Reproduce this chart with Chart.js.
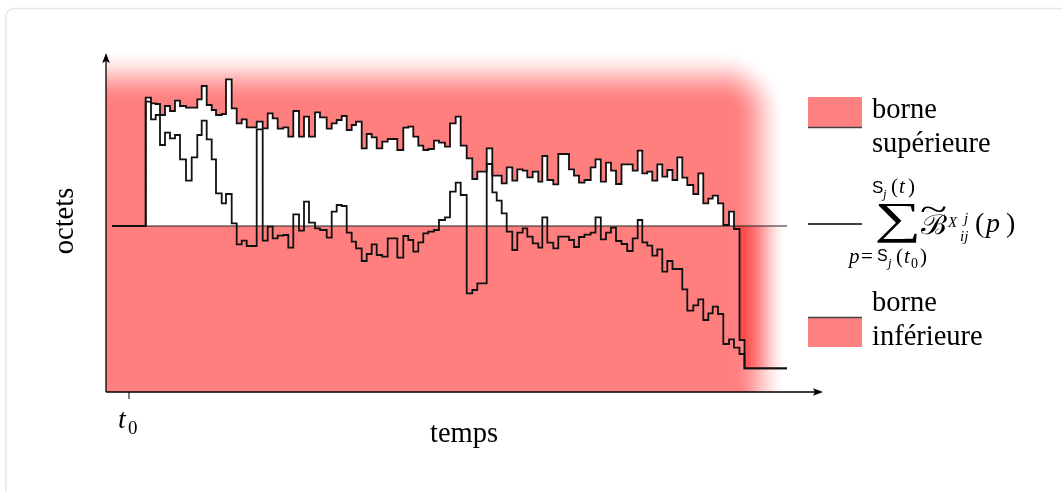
<!DOCTYPE html>
<html><head><meta charset="utf-8">
<script src="https://cdn.jsdelivr.net/npm/chart.js@4/dist/chart.umd.min.js"></script>
<style>html,body{margin:0;padding:0;background:#fff;}canvas{display:block;}</style>
</head><body>
<canvas id="c" width="1062" height="491"></canvas>
<script>
// ---- data (time units, values relative to the reference level) ----
const times = [6, 39.7, 45, 49.7, 54, 59, 64, 69, 74, 80,
  85.7, 91.3, 95.7, 100.7, 105.7, 110, 115.7, 120, 125.7, 130.7,
  135.7, 140.7, 145.7, 150.7, 156.7, 161.7, 166.7, 171.7, 177.3, 182.3,
  187.3, 193, 198, 203, 209, 214, 220.7, 225.7, 230.7, 235.7,
  240.7, 245.7, 250, 255.7, 260.7, 265.7, 270.7, 276.3, 281.7, 286.5,
  291.3, 297.3, 302.3, 307.3, 312.3, 317.3, 322.3, 328, 333, 339,
  344, 349.7, 354.7, 360.7, 366.3, 371.3, 376, 380.7, 386.3, 390.7,
  395.7, 400.7, 406.3, 411.3, 416.7, 421.3, 426.7, 432.3, 436.3, 441.3,
  447.3, 452.3, 457.5, 463, 468, 473, 478.5, 484.7, 489.5, 494.8,
  500, 505, 510, 515.5, 521.2, 526.7, 531.7, 536.3, 541.3, 546.3,
  551.3, 556.3, 561.3, 566.5, 571.3, 576.3, 581.3, 587.3, 592.3, 597.3,
  602.3, 606.7, 612, 617.3, 623, 628, 633.5, 638.5, 681];
const upperBound = [0, 128.3, 122.7, 122, 111, 120, 115, 125.3, 120, 118.3,
  118.3, 126.7, 140, 121, 116, 111, 112, 146.7, 117.7, 102.7,
  106.7, 98.7, 98.7, 104.3, 97.7, 112.7, 107.7, 97.3, 98.7, 89.3,
  115, 89.3, 109.3, 89.3, 113.7, 108.7, 97.3, 102.7, 106, 110,
  96, 101, 104.3, 77.7, 92, 88.7, 77.7, 84.3, 87, 87,
  76, 98.3, 99.3, 89.3, 80.3, 76, 77, 85.3, 83.3, 79.3,
  102.7, 109.3, 80.3, 67.7, 47, 54.3, 54.3, 77.7, 50.3, 50.3,
  42.7, 58.7, 45.3, 56.7, 55.3, 48.7, 54.3, 44.3, 70, 46,
  41.7, 72, 72, 56.7, 50.3, 43.3, 46, 58.7, 66.7, 44.3,
  63.3, 55.3, 42, 61.7, 61.7, 55.3, 75.3, 52.7, 54.3, 45.3,
  61.7, 49.3, 56, 46, 68.7, 48.3, 41, 32, 52.7, 22.7,
  27.3, 30.3, 22.7, 1, 14.3, -3, -114, -142.3];
const lowerBound = [0, 124.3, 106.7, 111, 81, 93.3, 87.7, 91, 66.7, 45.3,
  68.7, 91, 105.3, 86.7, 66.7, 32.7, 22.7, 32, 2.7, -18.3,
  -14.7, -20, -20, 96.7, -14.7, -0.7, -12.3, -9.7, -9, -21.7,
  11.7, -4.7, 24.3, 3.3, -2.3, -4, -11.7, 14.3, 21, 20,
  -6.7, -15.7, -22.3, -35, -28, -18.3, -29, -30.7, -12.3, -12.3,
  -31.7, -10, -14, -25.7, -16.3, -7.3, -5.7, -4, 6, 8.7,
  34.3, 43.3, 31, -67.3, -64, -57.3, -57.3, 62, 33.7, 25.3,
  12.7, -5.7, -24, -6.7, -2.3, -10.7, -17.3, -21.7, 8.7, -16.7,
  -22.3, -10.7, -10.7, -14, -21, -11, -8.7, -6.7, 8.7, -13.3,
  -6.7, -1.7, -15, -18, -25, -12.3, 6, -16.3, -19.7, -29.7,
  -23.3, -45.7, -35, -43, -43, -63.3, -84.7, -79.3, -73.3, -94,
  -87.3, -80.7, -88, -118, -113.3, -121.7, -128, -142.3];
const referenceLevel = 0;
const timeRange = [0, 717];
const valueRange = [-166, 173];
const t0Time = 23;
const xTitle = 'temps';
const yTitle = 'octets';
const legendUpper = ['borne', 'supérieure'];
const legendLower = ['borne', 'inférieure'];

// ---- build points ----
function stepPoints(vals) {
  const n = Math.min(vals.length, times.length - 1);
  const pts = [];
  for (let i = 0; i < n; i++) pts.push({x: times[i], y: vals[i]});
  pts.push({x: times[n], y: vals[n - 1]});
  return pts;
}
const upperPts = stepPoints(upperBound);
const lowerPts = stepPoints(lowerBound);
const upperFillPts = [{x: timeRange[0], y: referenceLevel}].concat(upperPts,
  [{x: timeRange[1], y: upperPts[upperPts.length - 1].y}]);

// ---- faded red patterns (soft edges on the top / right) ----
const W = 1062, H = 491;
const canvas = document.getElementById('c');
const mainCtx = canvas.getContext('2d');
function fadePattern(innerRight, innerTop, fade, radius) {
  const c = document.createElement('canvas');
  c.width = W; c.height = H;
  const g = c.getContext('2d');
  const img = g.createImageData(W, H);
  const d8 = img.data;
  for (let y = 0; y < H; y++) {
    for (let x = 0; x < W; x++) {
      const px = x + 0.5, py = y + 0.5;
      const dx = Math.max(0, px - (innerRight - radius));
      const dy = innerTop === null ? 0 : Math.max(0, (innerTop + radius) - py);
      const d = Math.max(0, Math.hypot(dx, dy) - radius);
      const a = d >= fade ? 0 : 0.5 * (1 + Math.cos(Math.PI * d / fade));
      const k = (y * W + x) * 4;
      d8[k] = 255; d8[k + 1] = 0; d8[k + 2] = 0; d8[k + 3] = Math.round(a * 0.5 * 255);
    }
  }
  g.putImageData(img, 0, 0);
  return mainCtx.createPattern(c, 'no-repeat');
}
const patUpper = fadePattern(733, 103, 54, 12);
const patLower = fadePattern(733, null, 54, 0);

const SERIF = '"Liberation Serif", "DejaVu Serif", serif';
const SANS = '"Liberation Sans", "DejaVu Sans", sans-serif';

function fitGlyph(ctx, str, family, x0, y0, x1, y1) {
  ctx.save();
  ctx.font = '100px ' + family;
  ctx.textAlign = 'left'; ctx.textBaseline = 'alphabetic';
  const m = ctx.measureText(str);
  const w = m.actualBoundingBoxLeft + m.actualBoundingBoxRight;
  const h = m.actualBoundingBoxAscent + m.actualBoundingBoxDescent;
  ctx.translate(x0, y0);
  ctx.scale((x1 - x0) / w, (y1 - y0) / h);
  ctx.fillText(str, m.actualBoundingBoxLeft, m.actualBoundingBoxAscent);
  ctx.restore();
}
function t(ctx, str, x, y, font) { ctx.font = font; ctx.fillText(str, x, y); }

const decor = {
  id: 'decor',
  beforeDraw(chart) {
    const ctx = chart.ctx;
    ctx.save();
    ctx.strokeStyle = '#e6e6e6'; ctx.lineWidth = 1.5;
    ctx.beginPath();
    if (ctx.roundRect) ctx.roundRect(6, 8.5, 1200, 700, 8); else ctx.rect(6, 8.5, 1200, 700);
    ctx.stroke();
    ctx.restore();
  },
  afterDraw(chart) {
    const ctx = chart.ctx, a = chart.chartArea;
    const xs = chart.scales.x;
    ctx.save();
    ctx.fillStyle = '#000'; ctx.strokeStyle = '#000'; ctx.lineWidth = 1.3;
    // axes
    ctx.beginPath();
    ctx.moveTo(a.left, a.bottom); ctx.lineTo(a.left, a.top + 8);
    ctx.moveTo(a.left, a.bottom); ctx.lineTo(a.right - 8, a.bottom);
    ctx.stroke();
    ctx.beginPath();
    ctx.moveTo(a.left, a.top); ctx.lineTo(a.left - 3.8, a.top + 10); ctx.lineTo(a.left, a.top + 8); ctx.lineTo(a.left + 3.8, a.top + 10); ctx.closePath();
    ctx.fill();
    ctx.beginPath();
    ctx.moveTo(a.right, a.bottom); ctx.lineTo(a.right - 10, a.bottom - 3.8); ctx.lineTo(a.right - 8, a.bottom); ctx.lineTo(a.right - 10, a.bottom + 3.8); ctx.closePath();
    ctx.fill();
    // t0 tick
    const xt = xs.getPixelForValue(t0Time);
    ctx.lineWidth = 1;
    ctx.beginPath(); ctx.moveTo(xt, a.bottom); ctx.lineTo(xt, a.bottom + 7); ctx.stroke();
    ctx.textBaseline = 'alphabetic'; ctx.textAlign = 'left';
    t(ctx, 't', xt - 11, 428, 'italic 28px ' + SERIF);
    t(ctx, '0', xt - 1, 434, '19px ' + SERIF);
    // axis titles
    ctx.textAlign = 'center';
    t(ctx, xTitle, 464, 442, '28.5px ' + SERIF);
    ctx.save();
    ctx.translate(73, 221); ctx.rotate(-Math.PI / 2);
    t(ctx, yTitle, 0, 0, '28.5px ' + SERIF);
    ctx.restore();
    ctx.textAlign = 'left';
    // legend swatches
    ctx.fillStyle = '#ff8080';
    ctx.fillRect(808, 97, 54, 31);
    ctx.fillRect(808, 317, 54, 30);
    ctx.strokeStyle = '#444'; ctx.lineWidth = 1.5;
    ctx.beginPath();
    ctx.moveTo(808, 127.5); ctx.lineTo(862, 127.5);
    ctx.moveTo(808, 317.5); ctx.lineTo(862, 317.5);
    ctx.stroke();
    ctx.strokeStyle = '#000'; ctx.lineWidth = 1.3;
    ctx.beginPath(); ctx.moveTo(808, 224); ctx.lineTo(862, 224); ctx.stroke();
    ctx.fillStyle = '#000';
    const lf = '28.5px ' + SERIF;
    t(ctx, legendUpper[0], 872, 118, lf);
    t(ctx, legendUpper[1], 872, 152, lf);
    t(ctx, legendLower[0], 872, 311, lf);
    t(ctx, legendLower[1], 872, 345, lf);
    // formula: sum_{p=S_j(t0)}^{S_j(t)} B~^{X^j}_{ij}(p)
    t(ctx, 'S', 872, 193, '17px ' + SANS);
    t(ctx, 'j', 883, 198, 'italic 13px ' + SERIF);
    t(ctx, '(', 891, 193, '21px ' + SERIF);
    t(ctx, 't', 899, 193, 'italic 21px ' + SERIF);
    t(ctx, ')', 908, 193, '21px ' + SERIF);
    fitGlyph(ctx, '\u2211', SERIF, 877, 203.5, 917, 242.5);
    fitGlyph(ctx, '\u212C', SERIF, 921, 214, 947, 234);
    fitGlyph(ctx, '~', SERIF, 921, 207, 946, 212.5);
    t(ctx, 'X', 948, 227, 'italic 15px ' + SERIF);
    t(ctx, 'j', 964, 223, 'italic 15px ' + SERIF);
    t(ctx, 'ij', 960, 241, 'italic 15px ' + SERIF);
    t(ctx, '(', 975, 232, '28px ' + SERIF);
    t(ctx, 'p', 986, 232, 'italic 28px ' + SERIF);
    t(ctx, ')', 1006, 232, '28px ' + SERIF);
    t(ctx, 'p', 849, 263, 'italic 21px ' + SERIF);
    t(ctx, '=', 861, 263, '21px ' + SERIF);
    t(ctx, 'S', 877, 261, '16px ' + SANS);
    t(ctx, 'j', 888, 267, 'italic 13px ' + SERIF);
    t(ctx, '(', 896, 263, '21px ' + SERIF);
    t(ctx, 't', 904, 263, 'italic 21px ' + SERIF);
    t(ctx, '0', 911, 268, '14px ' + SERIF);
    t(ctx, ')', 920, 263, '21px ' + SERIF);
    ctx.restore();
  }
};

new Chart(canvas, {
  type: 'line',
  data: {
    datasets: [
      {label: 'upper line', data: upperPts, stepped: 'before', borderColor: '#111', borderWidth: 1.8,
       pointRadius: 0, fill: false, order: 1},
      {label: 'lower line', data: lowerPts, stepped: 'before', borderColor: '#111', borderWidth: 1.8,
       pointRadius: 0, fill: false, order: 1},
      {label: 'reference', data: [{x: times[0], y: referenceLevel}, {x: times[times.length - 1], y: referenceLevel}],
       borderColor: '#222', borderWidth: 1.1, pointRadius: 0, fill: false, order: 2},
      {label: 'borne supérieure', data: upperFillPts, stepped: 'before', borderWidth: 0, borderColor: 'rgba(0,0,0,0)',
       pointRadius: 0, fill: 'end', backgroundColor: patUpper, order: 3},
      {label: 'borne inférieure', data: [{x: timeRange[0], y: referenceLevel}, {x: timeRange[1], y: referenceLevel}],
       borderWidth: 0, borderColor: 'rgba(0,0,0,0)', pointRadius: 0, fill: 'start', backgroundColor: patLower, order: 4}
    ]
  },
  options: {
    responsive: false,
    devicePixelRatio: 1,
    animation: false,
    events: [],
    layout: {padding: {left: 106, top: 53, right: 1062 - 823, bottom: 491 - 392}},
    plugins: {legend: {display: false}, tooltip: {enabled: false}, title: {display: false}},
    scales: {
      x: {type: 'linear', min: timeRange[0], max: timeRange[1], display: false},
      y: {type: 'linear', min: valueRange[0], max: valueRange[1], display: false}
    }
  },
  plugins: [decor]
});
</script>
</body></html>
